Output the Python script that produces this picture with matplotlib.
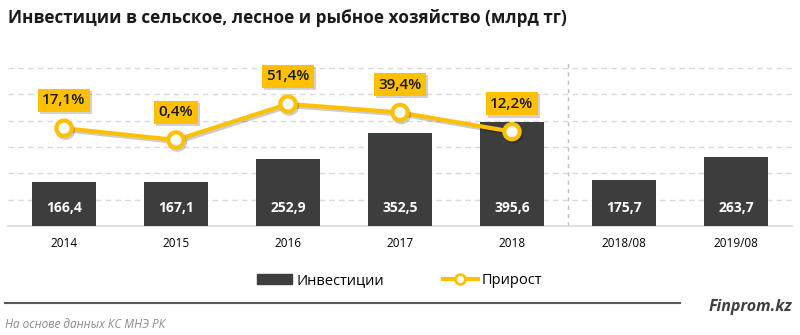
import numpy as np
import matplotlib.pyplot as plt
import matplotlib.patheffects as pe
from matplotlib.lines import Line2D
from matplotlib.patches import Patch

plt.rcParams['font.family'] = ['Open Sans', 'DejaVu Sans']

categories = ["2014", "2015", "2016", "2017", "2018", "2018/08", "2019/08"]
invest = [166.4, 167.1, 252.9, 352.5, 395.6, 175.7, 263.7]
invest_labels = ["166,4", "167,1", "252,9", "352,5", "395,6", "175,7", "263,7"]
growth = [17.1, 0.4, 51.4, 39.4, 12.2]
growth_labels = ["17,1%", "0,4%", "51,4%", "39,4%", "12,2%"]

bar_col = "#3d3d3d"
gold = "#FFC000"
shadow = [pe.SimplePatchShadow(offset=(1.5, -1.5), shadow_rgbFace="#808080", alpha=0.35),
          pe.Normal()]

fig = plt.figure(figsize=(8, 3.35), dpi=100)
ax = fig.add_axes([0.01, 0.3254, 0.98, 0.4955])
x = np.arange(len(categories))

ax.bar(x, invest, width=0.57, color=bar_col, zorder=3)
for xi, lab in zip(x, invest_labels):
    ax.text(xi, 68, lab, color="white", ha="center", va="center",
            fontsize=10, fontweight="bold", zorder=4)

ax.set_xlim(-0.5, len(categories) - 0.5)
ax.set_ylim(0, 630)
ax.set_yticks([100, 200, 300, 400, 500, 600])
ax.yaxis.grid(True, color="#d9d9d9", linestyle=(0, (4, 3)), linewidth=1, zorder=0)
ax.set_xticks(x)
ax.set_xticklabels(categories)
for s in ["top", "left", "right"]:
    ax.spines[s].set_visible(False)
ax.spines["bottom"].set_color("#d9d9d9")
ax.spines["bottom"].set_linewidth(1.2)
ax.axvline(4.5, color="#bfbfbf", linestyle=(0, (3, 3)), linewidth=1, zorder=1)

ax2 = ax.twinx()
ax2.set_ylim(-121.4, 113.7)
ax2.axis("off")
ax.tick_params(axis="y", left=False, right=False, labelleft=False, labelright=False)
ax.tick_params(axis="x", length=0, pad=8, labelsize=8.5)

gx = x[:len(growth)]
ax2.plot(gx, growth, color=gold, linewidth=3, marker="o", markersize=11,
         markerfacecolor="white", markeredgecolor=gold, markeredgewidth=3, zorder=5,
         path_effects=[pe.SimpleLineShadow(offset=(1, -1.5), alpha=0.2), pe.Normal()])
for xi, v, lab in zip(gx, growth, growth_labels):
    ann = ax2.annotate(lab, (xi, v), xytext=(0, 20), textcoords="offset points",
                       ha="center", va="center", fontsize=11, fontweight="semibold",
                       color="#1a1a1a",
                       bbox=dict(boxstyle="square,pad=0.3", fc=gold, ec="none"), zorder=6)
    ann.get_bbox_patch().set_path_effects(shadow)

fig.text(0.01, 0.945, "Инвестиции в сельское, лесное и рыбное хозяйство (млрд тг)",
         fontsize=12.3, fontweight="bold", color="#1a1a1a", va="center")

handles = [Patch(color=bar_col, label="Инвестиции"),
           Line2D([0], [0], color=gold, linewidth=3, marker="o", markersize=7,
                  markerfacecolor="white", markeredgecolor=gold, markeredgewidth=2,
                  label="Прирост")]
fig.legend(handles=handles, loc="center", bbox_to_anchor=(0.5, 0.163), ncol=2,
           frameon=False, fontsize=10.5, handlelength=2.4, columnspacing=4.0,
           handletextpad=0.3)

fig.add_artist(Line2D([0.006, 0.85], [0.095, 0.095], color="#595959", linewidth=1.5))
fig.text(0.99, 0.085, "Finprom.kz", fontsize=11.5, fontweight="bold", fontstyle="italic",
         color="#404040", ha="right", va="center")
fig.text(0.006, 0.03, "На основе данных КС МНЭ РК", fontsize=8.5, fontstyle="italic",
         color="#8c8c8c", va="center")

fig.savefig("out.png", dpi=100)
